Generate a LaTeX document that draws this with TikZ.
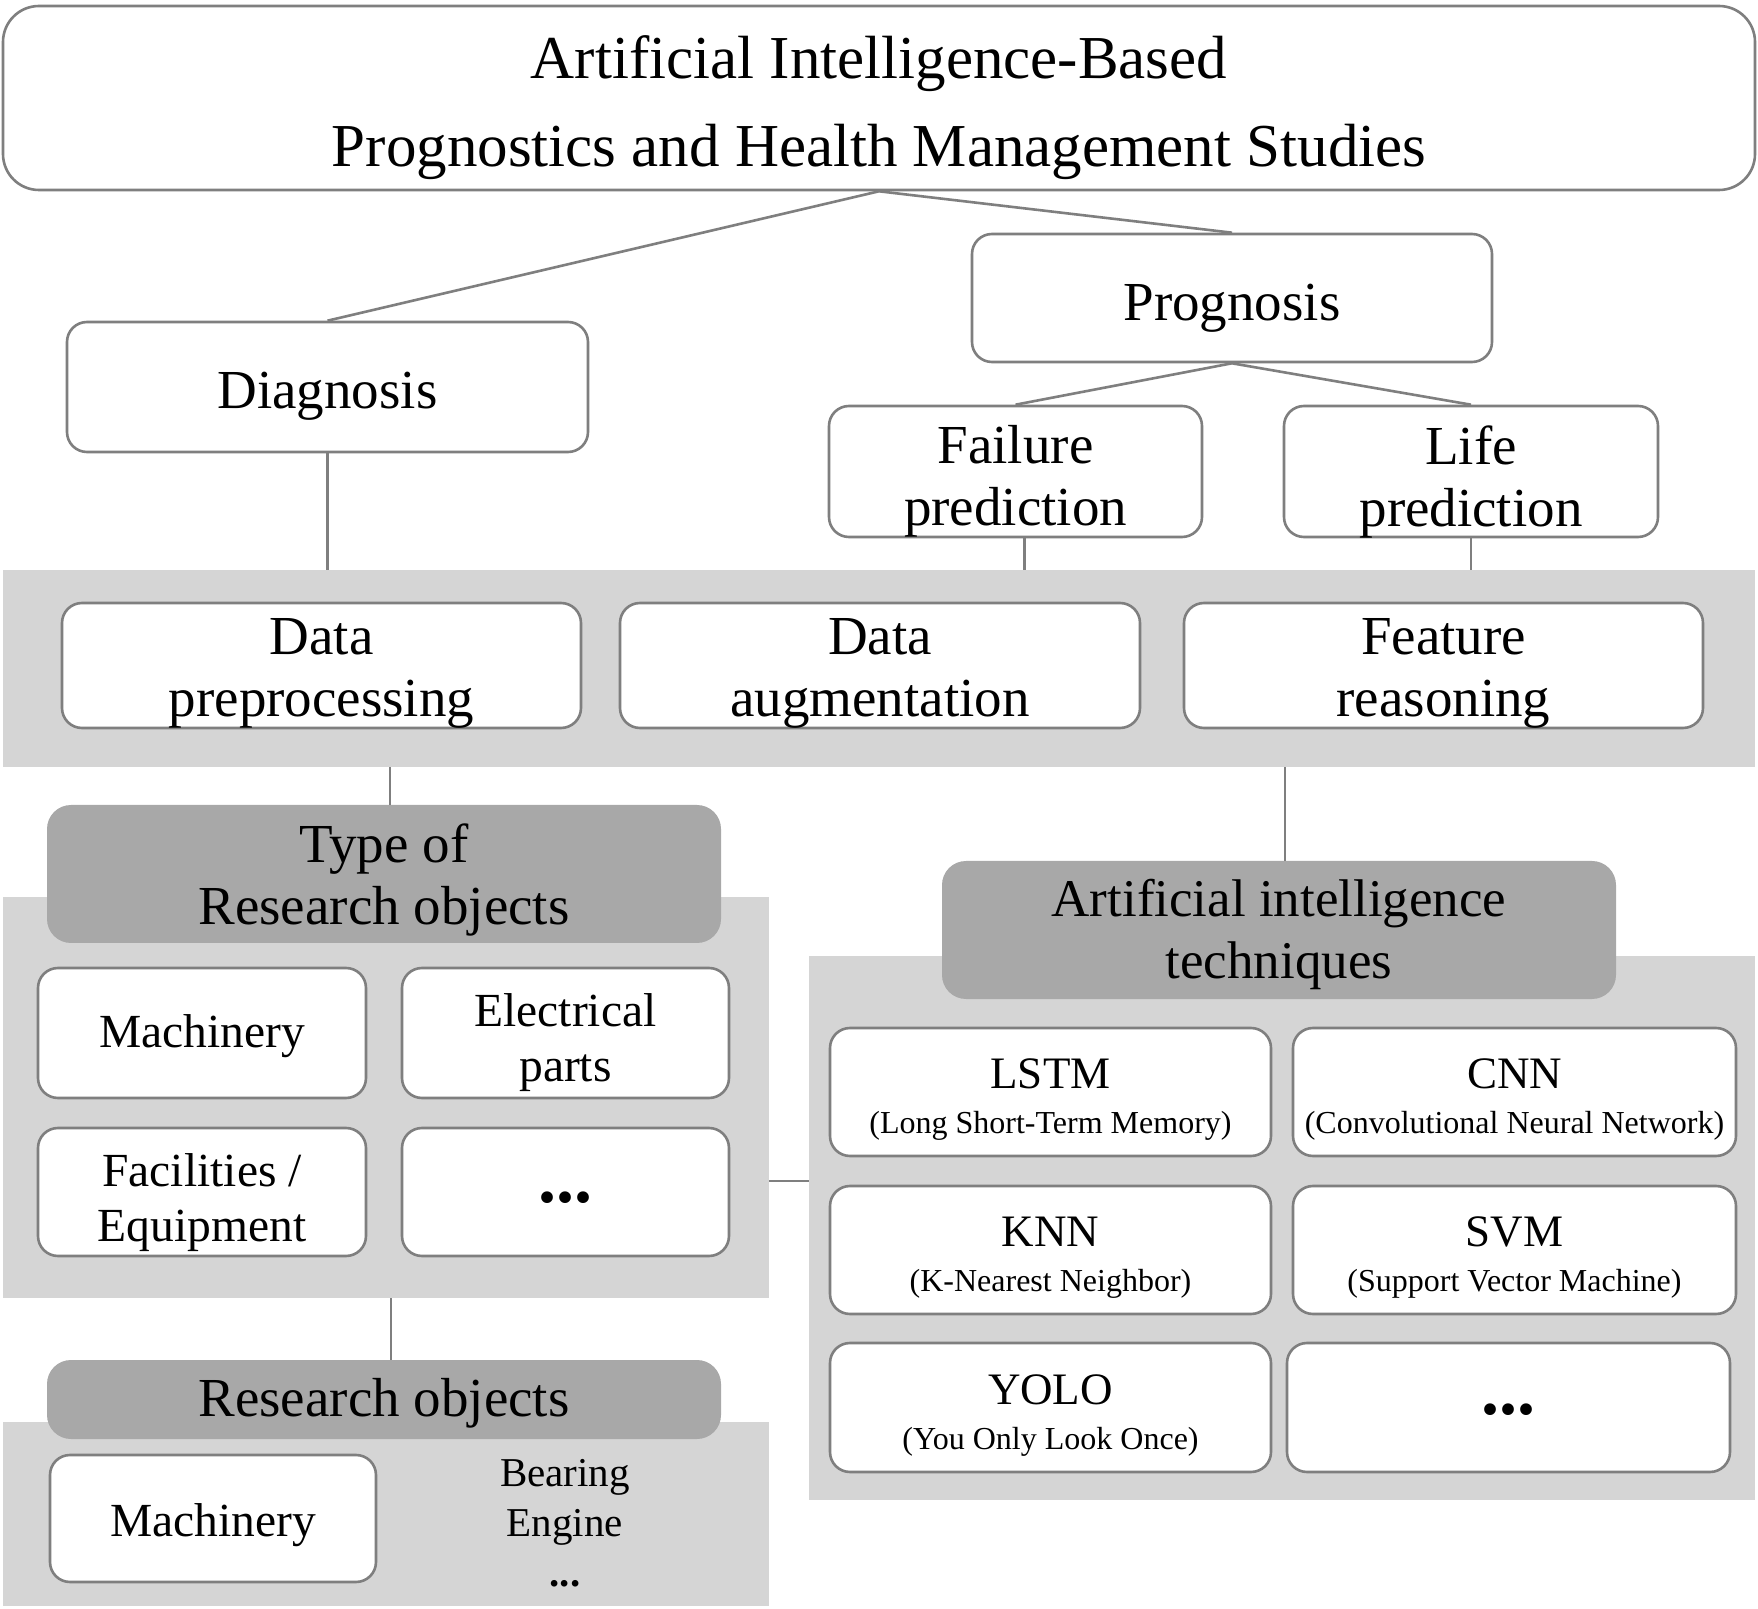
\documentclass[tikz,border=0pt]{standalone}
\usepackage{fontspec}
\setmainfont{Liberation Serif}
\definecolor{bandgray}{HTML}{D5D5D5}
\definecolor{headgray}{HTML}{A8A8A8}
\definecolor{edgegray}{HTML}{7F7F7F}
\begin{document}
\begin{tikzpicture}[x=0.5pt,y=-0.5pt,
  wbox/.style={draw=edgegray, line width=1.3pt, fill=white, rounded corners=10pt, inner sep=0pt},
  gband/.style={fill=bandgray, inner sep=0pt},
  ghead/.style={fill=headgray, rounded corners=12pt, inner sep=0pt},
  txt/.style={inner sep=0pt, align=center},
  link/.style={draw=edgegray, line width=1.3pt},
  fTitle/.style={font=\fontsize{30.5}{44}\selectfont},
  fBig/.style={font=\fontsize{27.5}{31}\selectfont},
  fMid/.style={font=\fontsize{23.75}{27.5}\selectfont},
  fTech/.style={font=\fontsize{22.5}{22.5}\selectfont},
  fSmall/.style={font=\fontsize{20.5}{25}\selectfont},
  fDots/.style={font=\fontsize{36}{36}\selectfont\bfseries},
  sz/.style 2 args={minimum width=#1pt, minimum height=#2pt},
]
\newcommand\subl[1]{{\fontsize{16}{22.5}\selectfont #1}}
\useasboundingbox (0,0) rectangle (1758,1609);
\fill[white] (0,0) rectangle (1758,1609);

% background bands / panels
\node[gband, sz={876}{98.5}] (band1) at (879,668.5) {};
\node[gband, sz={383}{200.5}] (lpanel) at (386,1097.5) {};
\node[gband, sz={383}{92}] (bpanel) at (386,1514) {};
\node[gband, sz={473}{272}] (rpanel) at (1282,1228) {};

% top
\node[wbox, rounded corners=18pt, sz={876}{92}] (top) at (879,98) {};
\node[txt, fTitle] (topT) at ([yshift=-5pt]top.center)
  {Artificial Intelligence-Based\\Prognostics and Health Management Studies};

\node[wbox, sz={260.5}{65}] (diag) at (327.5,387) {};
\node[txt, fBig] (diagT) at ([yshift=-4.5pt]diag.center) {Diagnosis};
\node[wbox, sz={260}{64}] (prog) at (1232,298) {};
\node[txt, fBig] (progT) at ([yshift=-5pt]prog.center) {Prognosis};
\node[wbox, sz={186.5}{65.5}] (fp) at (1015.5,471.5) {};
\node[txt, fBig] (fpT) at ([yshift=-5pt]fp.center) {Failure\\prediction};
\node[wbox, sz={187}{65.5}] (lp) at (1471,471.5) {};
\node[txt, fBig] (lpT) at ([yshift=-5pt]lp.center) {Life\\prediction};

\node[wbox, sz={259.5}{62.5}] (dp) at (321.5,665.5) {};
\node[txt, fBig] (dpT) at ([yshift=-4pt]dp.center) {Data\\preprocessing};
\node[wbox, sz={260}{62.5}] (da) at (880,665.5) {};
\node[txt, fBig] (daT) at ([yshift=-4pt]da.center) {Data\\augmentation};
\node[wbox, sz={259.5}{62.5}] (fr) at (1443.5,665.5) {};
\node[txt, fBig] (frT) at ([yshift=-4pt]fr.center) {Feature\\reasoning};

% left: type of research objects
\node[ghead, sz={337}{69}] (typehead) at (384,874) {};
\node[txt, fBig] (typeT) at ([yshift=-2.8pt]typehead.center) {Type of\\Research objects};
\node[wbox, sz={164}{65}] (mach) at (202,1033) {};
\node[txt, fMid] (machT) at ([yshift=-1.7pt]mach.center) {Machinery};
\node[wbox, sz={163.5}{65}] (elec) at (565.5,1033) {};
\node[txt, fMid] (elecT) at ([yshift=-5pt]elec.center) {Electrical\\parts};
\node[wbox, sz={164}{64}] (fac) at (202,1192) {};
\node[txt, fMid] (facT) at ([yshift=-5.5pt]fac.center) {Facilities /\\Equipment};
\node[wbox, sz={163.5}{64}] (more1) at (565.5,1192) {};
\node[txt, fDots] (more1T) at ([yshift=-2.8pt]more1.center) {...};

% left bottom: research objects
\node[ghead, sz={337}{39.5}] (reshead) at (384,1399.5) {};
\node[txt, fBig] (resT) at ([yshift=-1.7pt]reshead.center) {Research objects};
\node[wbox, sz={163}{63.5}] (mach2) at (213,1518.5) {};
\node[txt, fMid] (mach2T) at ([yshift=-3.4pt]mach2.center) {Machinery};
\node[txt, fSmall] (others) at (565,1523) {Bearing\\Engine\\\textbf{...}};

% right: AI techniques
\node[ghead, sz={337}{69}] (aihead) at (1279,930) {};
\node[txt, font=\fontsize{26.5}{31}\selectfont] (aiT) at ([yshift=-2.3pt]aihead.center) {Artificial intelligence\\techniques};
\node[wbox, sz={220.5}{64}] (lstm) at (1050.5,1092) {};
\node[txt, fTech] (lstmT) at ([yshift=-3.9pt]lstm.center) {LSTM\\\subl{(Long Short-Term Memory)}};
\node[wbox, sz={221.5}{64}] (cnn) at (1514.5,1092) {};
\node[txt, fTech] (cnnT) at ([yshift=-3.9pt]cnn.center) {CNN\\\subl{(Convolutional Neural Network)}};
\node[wbox, sz={220.5}{64}] (knn) at (1050.5,1250) {};
\node[txt, fTech] (knnT) at ([yshift=-3.9pt]knn.center) {KNN\\\subl{(K-Nearest Neighbor)}};
\node[wbox, sz={221.5}{64}] (svm) at (1514.5,1250) {};
\node[txt, fTech] (svmT) at ([yshift=-3.9pt]svm.center) {SVM\\\subl{(Support Vector Machine)}};
\node[wbox, sz={220.5}{64.5}] (yolo) at (1050.5,1407.5) {};
\node[txt, fTech] (yoloT) at ([yshift=-3.9pt]yolo.center) {YOLO\\\subl{(You Only Look Once)}};
\node[wbox, sz={221.5}{64.5}] (more2) at (1508.5,1407.5) {};
\node[txt, fDots] (more2T) at ([yshift=-1pt]more2.center) {...};

% connectors
\draw[link] (top.south) -- (diag.north);
\draw[link] (top.south) -- (prog.north);
\draw[link] (prog.south) -- (fp.north);
\draw[link] (prog.south) -- (lp.north);
\draw[link] (diag.south) -- (diag.south |- band1.north);
\coordinate (fpb) at ([xshift=4.5pt]fp.south);
\draw[link] (fpb) -- (fpb |- band1.north);
\draw[link] (lp.south) -- (lp.south |- band1.north);
\coordinate (th) at ([xshift=3pt]typehead.north);
\draw[link] (th |- band1.south) -- (th);
\coordinate (ah) at ([xshift=3pt]aihead.north);
\draw[link] (ah |- band1.south) -- (ah);
\coordinate (rh) at ([xshift=3.5pt]reshead.north);
\draw[link] (rh |- lpanel.south) -- (rh);
\coordinate (jl) at ([yshift=-41.75pt]lpanel.east);
\draw[link] (jl) -- (jl -| rpanel.west);
\end{tikzpicture}
\end{document}
